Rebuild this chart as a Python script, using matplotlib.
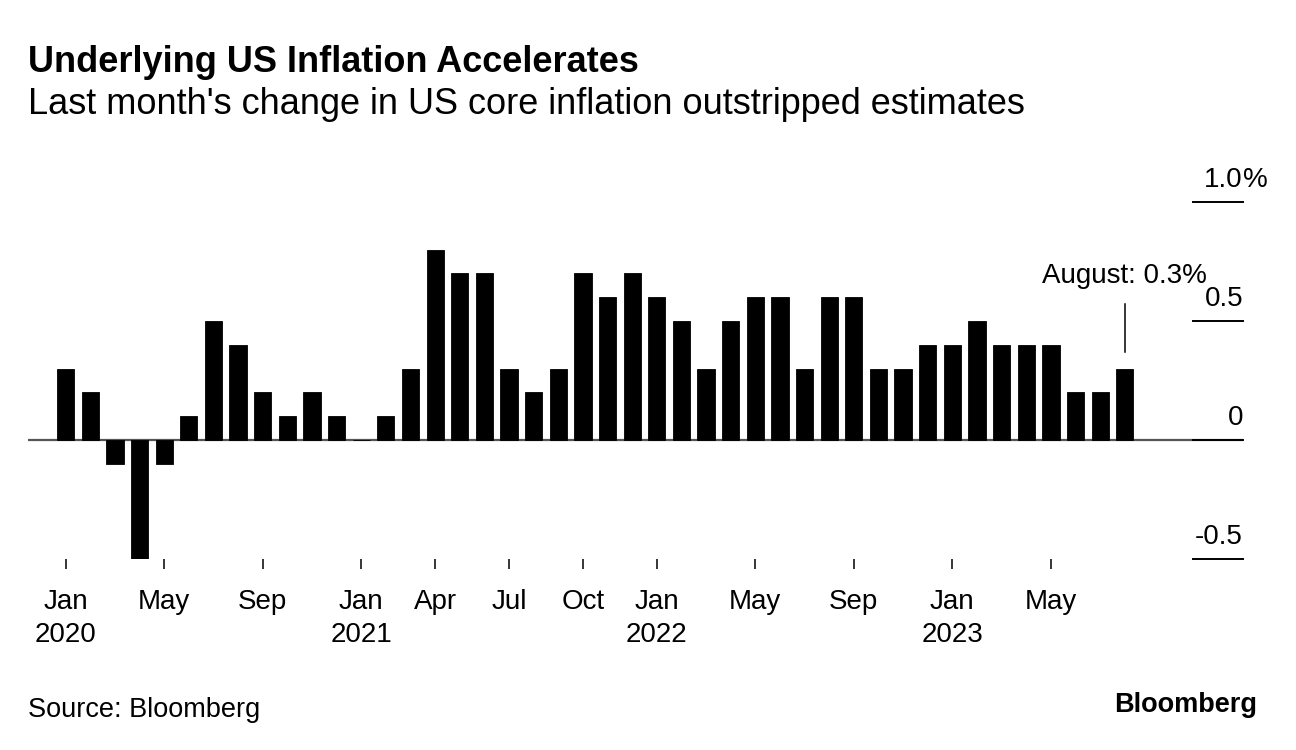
import matplotlib
matplotlib.use("Agg")
import matplotlib.pyplot as plt
import matplotlib.transforms as mtransforms

plt.rcParams['font.family'] = ['Liberation Sans', 'DejaVu Sans']

# Monthly change in US core CPI, Jan 2020 - Aug 2023 (%)
months = ['2020-01', '2020-02', '2020-03', '2020-04', '2020-05', '2020-06',
          '2020-07', '2020-08', '2020-09', '2020-10', '2020-11', '2020-12',
          '2021-01', '2021-02', '2021-03', '2021-04', '2021-05', '2021-06',
          '2021-07', '2021-08', '2021-09', '2021-10', '2021-11', '2021-12',
          '2022-01', '2022-02', '2022-03', '2022-04', '2022-05', '2022-06',
          '2022-07', '2022-08', '2022-09', '2022-10', '2022-11', '2022-12',
          '2023-01', '2023-02', '2023-03', '2023-04', '2023-05', '2023-06',
          '2023-07', '2023-08']
core_mom = [0.3, 0.2, -0.1, -0.5, -0.1, 0.1, 0.5, 0.4, 0.2, 0.1, 0.2, 0.1,
            0.0, 0.1, 0.3, 0.8, 0.7, 0.7, 0.3, 0.2, 0.3, 0.7, 0.6, 0.7,
            0.6, 0.5, 0.3, 0.5, 0.6, 0.6, 0.3, 0.6, 0.6, 0.3, 0.3, 0.4,
            0.4, 0.5, 0.4, 0.4, 0.4, 0.2, 0.2, 0.3]

xtick_pos = [0, 4, 8, 12, 15, 18, 21, 24, 28, 32, 36, 40]
xtick_labels = ['Jan\n2020', 'May', 'Sep', 'Jan\n2021', 'Apr', 'Jul', 'Oct',
                'Jan\n2022', 'May', 'Sep', 'Jan\n2023', 'May']
ytick_vals = [-0.5, 0, 0.5, 1.0]
ytick_labels = ['-0.5', '0', '0.5', '1.0']
ytick_suffix = ['', '', '', '%']

W, H = 1296, 750
fig = plt.figure(figsize=(W / 100, H / 100), dpi=100)
ax = fig.add_axes([28 / W, (H - 559) / H, (1243 - 28) / W, (559 - 202) / H])

x = list(range(len(core_mom)))
ax.bar(x, core_mom, width=0.7, color='black', edgecolor='black',
       linewidth=0.6, zorder=3)

ax.set_xlim(-1.53, 47.8)
ax.set_ylim(-0.5, 1.0)

# zero line across, short grid stubs at right
ax.axhline(0, color='#555555', lw=1.6, zorder=2)
trans = mtransforms.blended_transform_factory(ax.transAxes, ax.transData)
for v, lab, suf in zip(ytick_vals, ytick_labels, ytick_suffix):
    ax.axhline(v, xmin=0.959, xmax=1.0, color='black', lw=1.4, zorder=2,
               clip_on=False)
    ax.annotate(lab, xy=(1.0, v), xycoords=trans, xytext=(0, 11),
                textcoords='offset points', ha='right', va='baseline',
                fontsize=20, annotation_clip=False)
    if suf:
        ax.annotate(suf, xy=(1.0, v), xycoords=trans, xytext=(0, 11),
                    textcoords='offset points', ha='left', va='baseline',
                    fontsize=20, annotation_clip=False)

for s in ax.spines.values():
    s.set_visible(False)
ax.set_yticks([])
ax.set_xticks(xtick_pos)
ax.set_xticklabels(xtick_labels, fontsize=20, linespacing=1.38)
ax.tick_params(axis='x', direction='out', length=7.5, width=1.1,
               color='black', pad=14)

# annotation for latest month
last_x = x[-1]
last_v = core_mom[-1]
ax.plot([last_x, last_x], [last_v + 0.07, last_v + 0.27], color='black',
        lw=1.1, zorder=3)
ax.text(last_x, last_v + 0.39, 'August: 0.3%', ha='center', va='center',
        fontsize=20)

fig.text(28 / W, 1 - 62 / H, 'Underlying US Inflation Accelerates',
         fontsize=26, fontweight='bold', va='center', ha='left')
fig.text(28 / W, 1 - 105 / H,
         "Last month's change in US core inflation outstripped estimates",
         fontsize=26, va='center', ha='left')
fig.text(28 / W, 1 - 710 / H, 'Source: Bloomberg', fontsize=19.5,
         va='center', ha='left')
fig.text(1257 / W, 1 - 705 / H, 'Bloomberg', fontsize=19.5, fontweight='bold',
         va='center', ha='right')

fig.savefig('out.png', dpi=100)
